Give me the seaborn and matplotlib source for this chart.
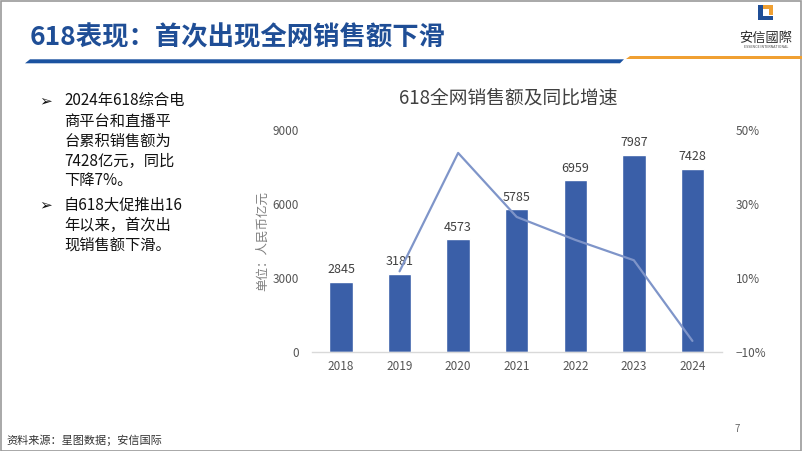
import matplotlib
matplotlib.use("Agg")
import matplotlib.pyplot as plt
import matplotlib.patches as mpatches
from matplotlib.ticker import FixedLocator
import seaborn as sns
import pandas as pd

# ---- data ----
years = [2018, 2019, 2020, 2021, 2022, 2023, 2024]
sales = [2845, 3181, 4573, 5785, 6959, 7987, 7428]
growth_years = [2019, 2020, 2021, 2022, 2023, 2024]
growth = [11.8, 43.8, 26.5, 20.3, 14.8, -7.0]
left_ticks = [0, 3000, 6000, 9000]
right_ticks = [-10, 10, 30, 50]
right_tick_labels = ["\u221210%", "10%", "30%", "50%"]

page_title = "618表现：首次出现全网销售额下滑"
chart_title = "618全网销售额及同比增速"
y_label = "单位：人民币亿元"
bullets = [
    ["2024年618综合电", "商平台和直播平", "台累积销售额为", "7428亿元，同比", "下降7%。"],
    ["自618大促推出16", "年以来，首次出", "现销售额下滑。"],
]
source = "资料来源：星图数据；安信国际"

sns.set_theme(style="white")
plt.rcParams['font.family'] = ['Noto Sans CJK SC', 'DejaVu Sans']

BAR = "#3A5FA8"
LINE = "#7F95C9"
TICK = "#555555"
NAVY = "#1F4E96"

fig = plt.figure(figsize=(8.02, 4.51), dpi=100)
fig.patch.set_facecolor("white")

# slide frame
fig.add_artist(mpatches.Rectangle((0.0008, 0.001), 0.9984, 0.997, transform=fig.transFigure,
                                  fill=False, edgecolor="#9A9A9A", lw=1.2))

# page title
fig.text(30 / 802, 1 - 38 / 451, page_title, fontsize=19, fontweight="bold",
         color=NAVY, va="center", ha="left")

def fx(x):
    return x / 802
def fy(y):
    return 1 - y / 451

# underline bars (blue and orange)
blue_poly = [(fx(25), fy(63.3)), (fx(620), fy(63.3)), (fx(624), fy(59.3)), (fx(30), fy(59.3))]
fig.add_artist(mpatches.Polygon(blue_poly, closed=True, transform=fig.transFigure,
                                facecolor="#1A52A0", edgecolor="none"))
orange_poly = [(fx(626), fy(59.2)), (fx(802), fy(59.2)), (fx(802), fy(55.7)), (fx(630), fy(55.7))]
fig.add_artist(mpatches.Polygon(orange_poly, closed=True, transform=fig.transFigure,
                                facecolor="#F0A032", edgecolor="none"))

# logo
fig.add_artist(mpatches.Rectangle((fx(758), fy(20)), fx(4.5), 15 / 451, transform=fig.transFigure,
                                  facecolor="#1F4E96", edgecolor="none"))
fig.add_artist(mpatches.Rectangle((fx(758), fy(20)), fx(15), 4 / 451, transform=fig.transFigure,
                                  facecolor="#1F4E96", edgecolor="none"))
fig.add_artist(mpatches.Rectangle((fx(768.5), fy(15)), fx(4.5), 10 / 451, transform=fig.transFigure,
                                  facecolor="#F0A032", edgecolor="none"))
fig.add_artist(mpatches.Rectangle((fx(763), fy(9)), fx(10), 4 / 451, transform=fig.transFigure,
                                  facecolor="#F0A032", edgecolor="none"))
fig.text(fx(766), fy(38), "安信國際", fontsize=9.5, color="#2B2B2B", ha="center", va="center",
         family=['Noto Sans CJK TC', 'DejaVu Sans'])
fig.text(fx(766), fy(47.5), "ESSENCE INTERNATIONAL", fontsize=2.6, color="#444444",
         ha="center", va="center")

# bullets
line_y = [[101, 121, 141, 161, 181], [205, 225, 245]]
for blk, ys in zip(bullets, line_y):
    fig.text(fx(46), fy(ys[0]), "\u27A2", fontsize=11, color="#111111", ha="center", va="center",
             family=['DejaVu Sans'], fontweight="bold")
    for t, yy in zip(blk, ys):
        fig.text(fx(64), fy(yy), t, fontsize=11, color="#111111", ha="left", va="center")

# footer
fig.text(fx(6), fy(440), source, fontsize=8, color="#333333", ha="left", va="center")
fig.text(fx(737), fy(429), "7", fontsize=7, color="#666666", ha="center", va="center")

# chart
ax = fig.add_axes([311.7 / 802, 99 / 451, 410 / 802, 222 / 451])
df = pd.DataFrame({"year": years, "sales": sales})
sns.barplot(data=df, x="year", y="sales", ax=ax, color=BAR, width=0.4,
            native_scale=True, saturation=1, errorbar=None)
ax.set_xlim(2017.5, 2024.5)
ax.set_ylim(0, 9000)
ax.yaxis.set_major_locator(FixedLocator(left_ticks))
ax.set_xticks(years)
ax.set_xticklabels([str(y) for y in years])
ax.tick_params(axis="both", labelsize=8.5, colors=TICK, length=0)
ax.tick_params(axis="y", pad=9)
ax.tick_params(axis="x", pad=6)
ax.set_xlabel("")
ax.set_ylabel(y_label, fontsize=9, color="#7F7F7F", labelpad=3)
for s in ["top", "right", "left"]:
    ax.spines[s].set_visible(False)
ax.spines["bottom"].set_color("#D9D9D9")
ax.spines["bottom"].set_linewidth(1)
ax.grid(False)
for c in ax.containers:
    ax.bar_label(c, labels=[str(v) for v in sales], padding=4, fontsize=9, color="#404040")

ax2 = ax.twinx()
gdf = pd.DataFrame({"year": growth_years, "growth": growth})
sns.lineplot(data=gdf, x="year", y="growth", ax=ax2, color=LINE, linewidth=1.6)
ax2.set_ylim(-10, 50)
ax2.set_xlim(2017.5, 2024.5)
ax2.yaxis.set_major_locator(FixedLocator(right_ticks))
ax2.set_yticklabels(right_tick_labels)
ax2.tick_params(axis="y", labelsize=8.5, colors=TICK, length=0, pad=10)
ax2.set_ylabel("")
ax2.grid(False)
for s in ["top", "right", "left", "bottom"]:
    ax2.spines[s].set_visible(False)

fig.text(fx(508), fy(98), chart_title, fontsize=13.5, color="#404040", ha="center", va="center")

fig.savefig("out.png", dpi=100, facecolor="white")
